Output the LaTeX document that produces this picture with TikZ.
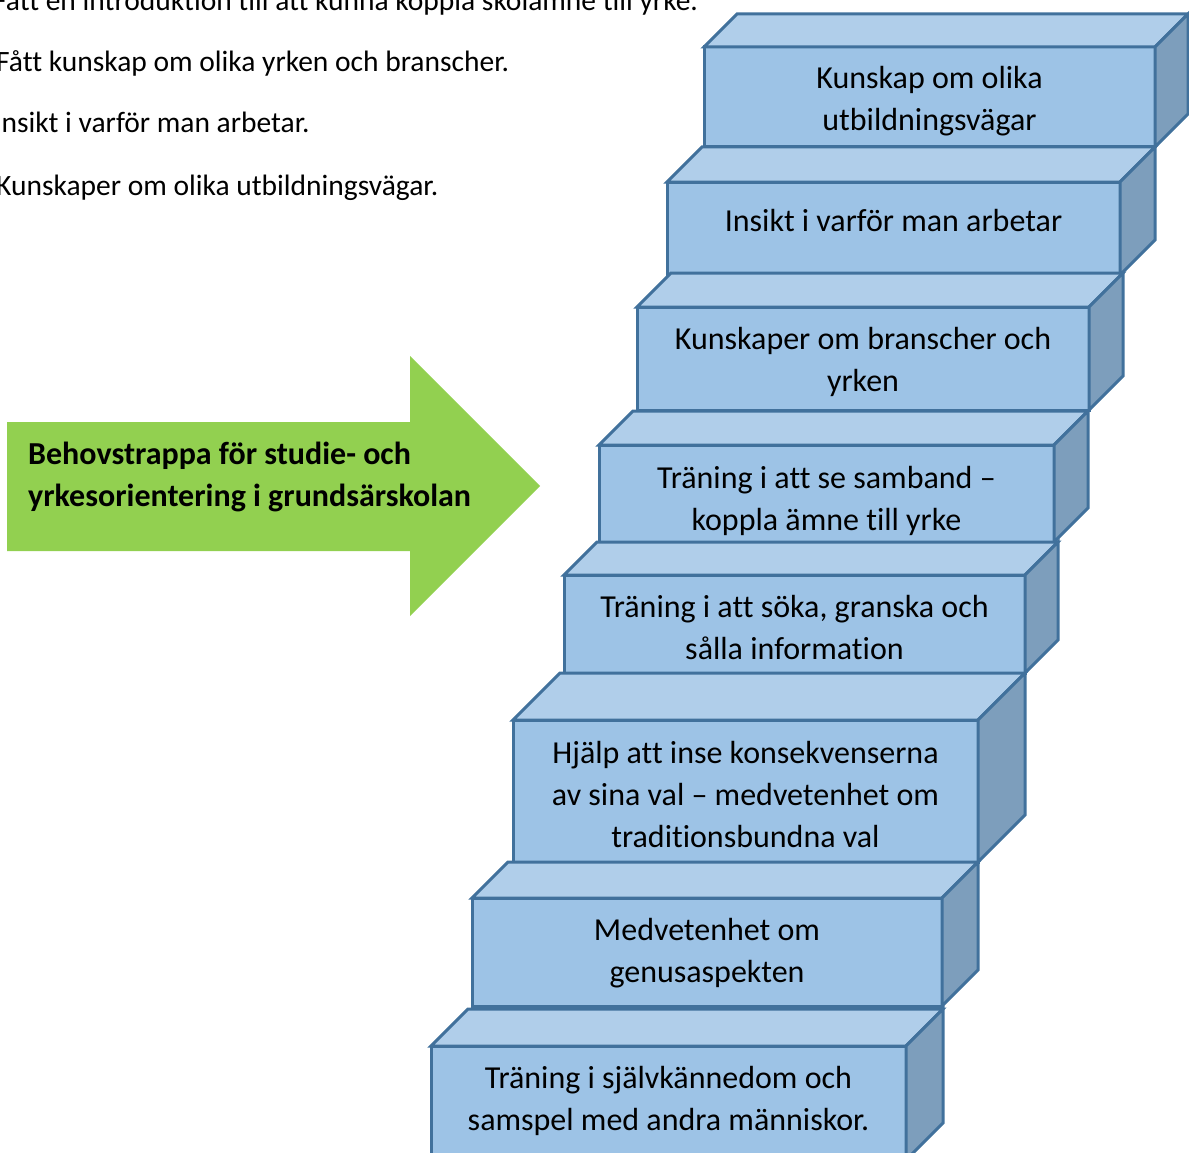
\documentclass[tikz,border=0pt]{standalone}
\usepackage{fontspec}
\setmainfont{Carlito}[Ligatures=NoCommon]
\usetikzlibrary{positioning}

\definecolor{stepfront}{RGB}{157,195,230}
\definecolor{steptop}{RGB}{176,206,234}
\definecolor{stepside}{RGB}{125,158,188}
\definecolor{stepline}{RGB}{65,113,156}
\definecolor{arrowgreen}{RGB}{146,208,80}

\begin{document}
\begin{tikzpicture}[x=1pt,y=-1pt,
	stepbox/.style={fill=stepfront,draw=stepline,line width=3pt,outer sep=0pt,inner sep=0pt},
	steptext/.style={inner sep=0pt,align=center,font=\fontsize{32}{42}\selectfont},
	topface/.style={fill=steptop,draw=stepline,line width=3pt},
	sideface/.style={fill=stepside,draw=stepline,line width=3pt},
	listtext/.style={anchor=base west,inner sep=0pt,font=\fontsize{29.5}{30}\selectfont}]
	\clip (0,0) rectangle (1189,1153);
	%list on the left
	\node (intro) at (-7,11) [listtext] {Fått en introduktion till att kunna koppla skolämne till yrke.};
	\node (yrken) at (-4,72) [listtext] {Fått kunskap om olika yrken och branscher.};
	\node (insikt) at (-6,133) [listtext] {Insikt i varför man arbetar.};
	\node (vagar) at (-4,195) [listtext] {Kunskaper om olika utbildningsvägar.};

	%arrow
	\fill[arrowgreen] (7,422) -- (410,422) -- (410,356) -- (540,486) -- (410,616) -- (410,551) -- (7,551) -- cycle;
	\node (title) at (28,477) [anchor=west,inner sep=0pt,align=left,font=\bfseries\fontsize{32}{42}\selectfont] {Behovstrappa för studie- och\\yrkesorientering i grundsärskolan};

	%steps, top to bottom
	\node (step1) at (929.5,97) [stepbox,minimum width=451,minimum height=100] {};
	\draw[topface] (step1.north west) -- ++(33,-33) -- ++(451,0) -- (step1.north east) -- cycle;
	\draw[sideface] (step1.north east) -- ++(33,-33) -- ++(0,100) -- (step1.south east) -- cycle;
	\node (step1text) at (929.5,101) [steptext] {Kunskap om olika\\utbildningsvägar};

	\node (step2) at (893.5,228.5) [stepbox,minimum width=453,minimum height=93] {};
	\draw[topface] (step2.north west) -- ++(35,-35) -- ++(453,0) -- (step2.north east) -- cycle;
	\draw[sideface] (step2.north east) -- ++(35,-35) -- ++(0,93) -- (step2.south east) -- cycle;
	\node (step2text) at (893.5,220.5) [steptext] {Insikt i varför man arbetar};

	\node (step3) at (863,358.5) [stepbox,minimum width=452,minimum height=103] {};
	\draw[topface] (step3.north west) -- ++(34,-34) -- ++(452,0) -- (step3.north east) -- cycle;
	\draw[sideface] (step3.north east) -- ++(34,-34) -- ++(0,103) -- (step3.south east) -- cycle;
	\node (step3text) at (863,361.5) [steptext] {Kunskaper om branscher och\\yrken};

	\node (step4) at (826.5,493.5) [stepbox,minimum width=455,minimum height=97] {};
	\draw[topface] (step4.north west) -- ++(34,-34) -- ++(455,0) -- (step4.north east) -- cycle;
	\draw[sideface] (step4.north east) -- ++(34,-34) -- ++(0,97) -- (step4.south east) -- cycle;
	\node (step4text) at (826.5,500.5) [steptext] {Träning i att se samband –\\koppla ämne till yrke};

	\node (step5) at (794.5,624) [stepbox,minimum width=461,minimum height=98] {};
	\draw[topface] (step5.north west) -- ++(33,-33) -- ++(461,0) -- (step5.north east) -- cycle;
	\draw[sideface] (step5.north east) -- ++(33,-33) -- ++(0,98) -- (step5.south east) -- cycle;
	\node (step5text) at (794.5,628) [steptext] {Träning i att söka, granska och\\sålla information};

	\node (step6) at (745.5,791) [stepbox,minimum width=465,minimum height=142] {};
	\draw[topface] (step6.north west) -- ++(47,-47) -- ++(465,0) -- (step6.north east) -- cycle;
	\draw[sideface] (step6.north east) -- ++(47,-47) -- ++(0,142) -- (step6.south east) -- cycle;
	\node (step6text) at (745.5,794.5) [steptext] {Hjälp att inse konsekvenserna\\av sina val – medvetenhet om\\traditionsbundna val};

	\node (step7) at (707,952) [stepbox,minimum width=470,minimum height=108] {};
	\draw[topface] (step7.north west) -- ++(36,-36) -- ++(470,0) -- (step7.north east) -- cycle;
	\draw[sideface] (step7.north east) -- ++(36,-36) -- ++(0,108) -- (step7.south east) -- cycle;
	\node (step7text) at (707,953) [steptext] {Medvetenhet om\\genusaspekten};

	\node (step8) at (668.5,1103) [stepbox,minimum width=475,minimum height=114] {};
	\draw[topface] (step8.north west) -- ++(37,-37) -- ++(475,0) -- (step8.north east) -- cycle;
	\draw[sideface] (step8.north east) -- ++(37,-37) -- ++(0,114) -- (step8.south east) -- cycle;
	\node (step8text) at (668.5,1101) [steptext] {Träning i självkännedom och\\samspel med andra människor.};
\end{tikzpicture}
\end{document}
